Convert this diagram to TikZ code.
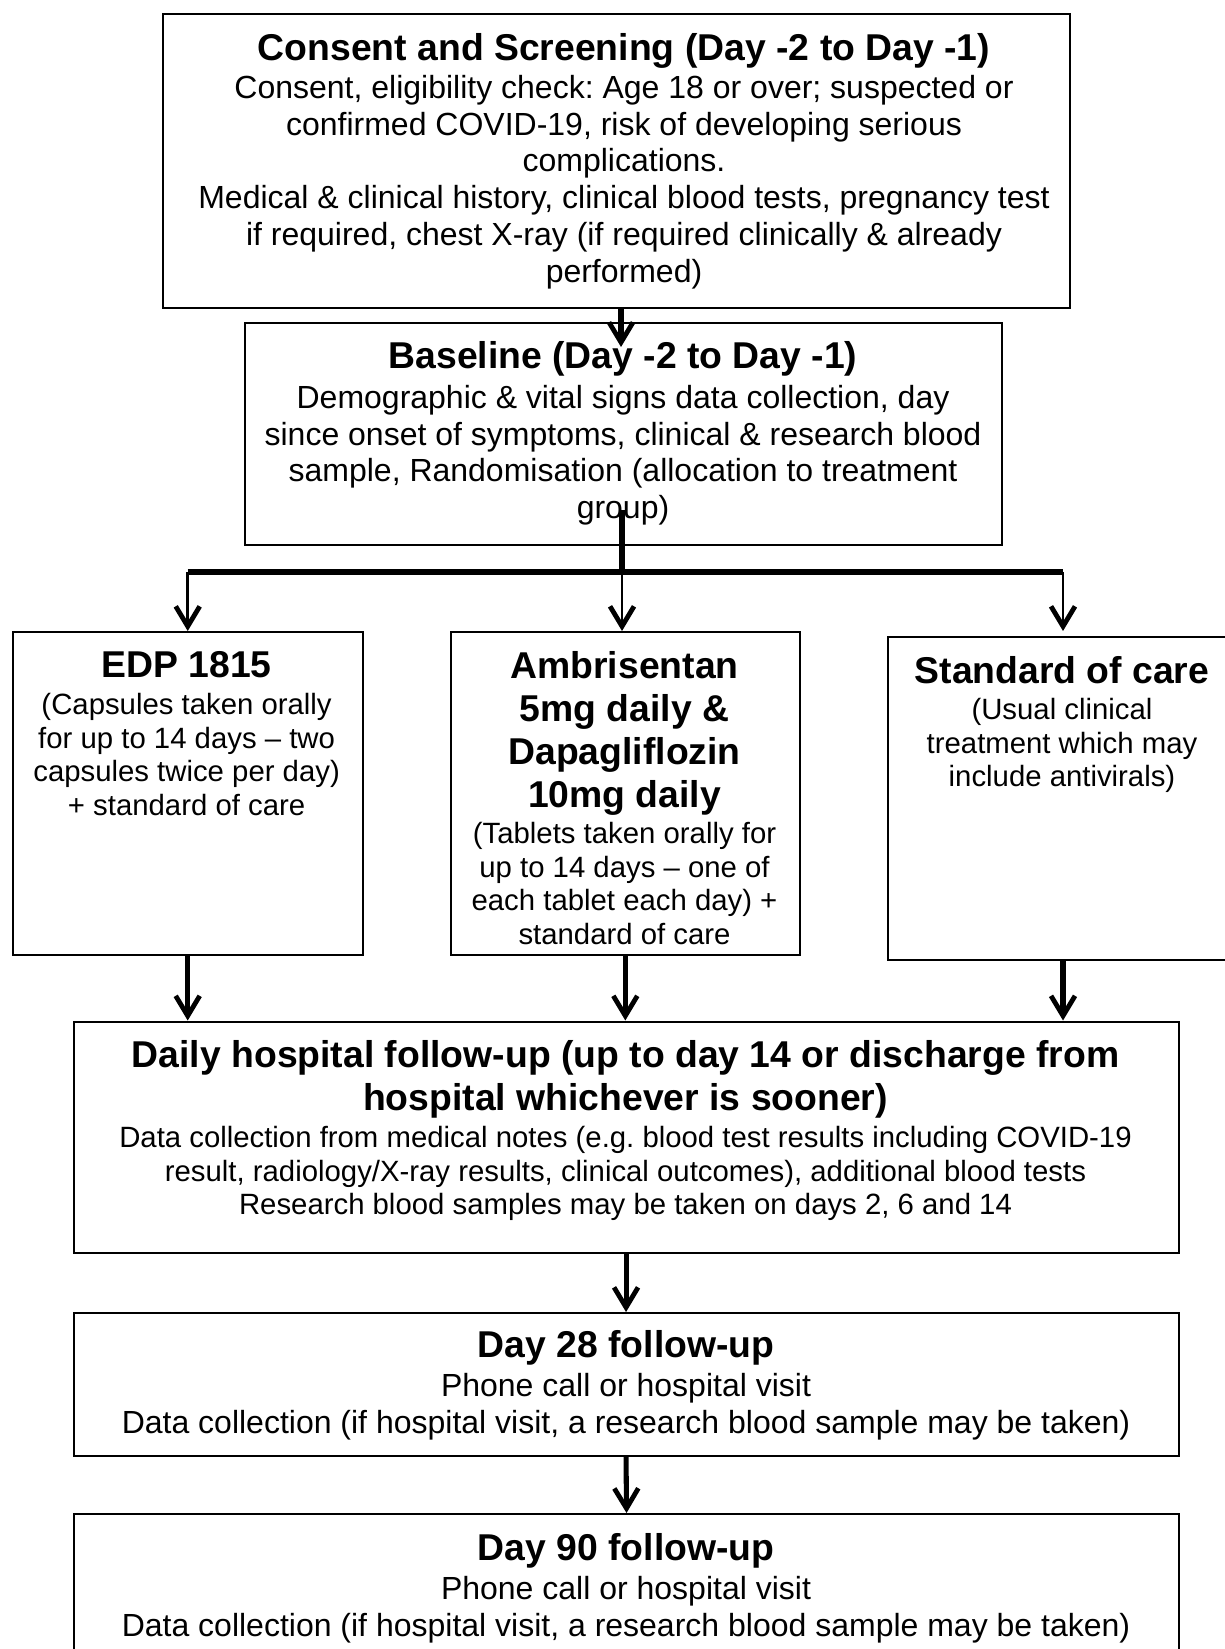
\documentclass[tikz,border=0pt]{standalone}
\usepackage{fontspec}
\setmainfont{Liberation Sans}
\usepackage{tikz}
\usetikzlibrary{arrows.meta, positioning}
\frenchspacing

\newcommand{\ttl}{\fontsize{14}{16.1}\selectfont\bfseries}
\newcommand{\bodyL}{\fontsize{12}{13.8}\selectfont}
\newcommand{\bodyS}{\fontsize{11}{12.65}\selectfont}

\begin{document}
\begin{tikzpicture}[
  x=0.375pt, y=-0.375pt,
  box/.style={draw, line width=0.75pt, anchor=north west, inner sep=0pt},
  txt/.style={anchor=north, align=center, inner sep=0pt},
  arr/.style={-{Straight Barb[length=7.5pt, width=9pt, line width=1.8pt]}, line width=1.9pt},
  thinarr/.style={arr, line width=1pt},
  bar/.style={line width=1.9pt}
]
  \useasboundingbox (0,0) rectangle (1224,1649);

  % boxes
  \node[box, minimum width=340.1pt, minimum height=110.25pt] (consent) at (162,13) {};
  \node[box, minimum width=283.9pt, minimum height=83.25pt] (baseline) at (244,322) {};
  \node[box, minimum width=131.25pt, minimum height=121.1pt] (edp) at (11.7,631) {};
  \node[box, minimum width=131.1pt, minimum height=121.1pt] (amb) at (449.5,631) {};
  \node[box, minimum width=131.25pt, minimum height=121.1pt] (std) at (887,636) {};
  \node[box, minimum width=414.4pt, minimum height=86.8pt] (daily) at (72.5,1020.5) {};
  \node[box, minimum width=414.4pt, minimum height=53.6pt] (day28) at (72.5,1312) {};
  \node[box, minimum width=414.4pt, minimum height=62.6pt] (day90) at (73,1513) {};

  % texts
  \node[txt, font=\ttl] (consentT) at (624,33) {Consent and Screening (Day -2 to Day -1)};
  \node[txt, font=\bodyL] (consentB) at (624,74.5) {Consent, eligibility check: Age 18 or over; suspected or\\
    confirmed COVID-19, risk of developing serious\\complications.\\
    Medical \& clinical history, clinical blood tests, pregnancy test\\
    if required, chest X-ray (if required clinically \& already\\performed)};

  \node[txt, font=\ttl] (baselineT) at (623,341) {Baseline (Day -2 to Day -1)};
  \node[txt, font=\bodyL] (baselineB) at (623,384.5) {Demographic \& vital signs data collection, day\\
    since onset of symptoms, clinical \& research blood\\
    sample, Randomisation (allocation to treatment\\group)};

  \node[txt, font=\ttl] (edpT) at (186.6,651) {EDP 1815};
  \node[txt, font=\bodyS] (edpB) at (186.6,692.5) {(Capsules taken orally\\
    for up to 14 days -- two\\capsules twice per day)\\+ standard of care};

  \node[txt, font=\ttl] (ambT) at (624.5,651) {Ambrisentan\\5mg daily \&\\Dapagliflozin\\10mg daily};
  \node[txt, font=\bodyS] (ambB) at (624.5,821.5) {(Tablets taken orally for\\
    up to 14 days -- one of\\each tablet each day) +\\standard of care};

  \node[txt, font=\ttl] (stdT) at (1062,656) {Standard of care};
  \node[txt, font=\bodyS] (stdB) at (1062,697.5) {(Usual clinical\\treatment which may\\include antivirals)};

  \node[txt, font=\ttl] (dailyT) at (625.5,1040) {Daily hospital follow-up (up to day 14 or discharge from\\
    hospital whichever is sooner)};
  \node[txt, font=\bodyS] (dailyB) at (625.5,1125.5) {Data collection from medical notes (e.g. blood test results including COVID-19\\
    result, radiology/X-ray results, clinical outcomes), additional blood tests\\
    Research blood samples may be taken on days 2, 6 and 14};

  \node[txt, font=\ttl] (day28T) at (626,1330) {Day 28 follow-up};
  \node[txt, font=\bodyL] (day28B) at (626,1372.5) {Phone call or hospital visit\\
    Data collection (if hospital visit, a research blood sample may be taken)};

  \node[txt, font=\ttl] (day90T) at (626,1533) {Day 90 follow-up};
  \node[txt, font=\bodyL] (day90B) at (626,1575.5) {Phone call or hospital visit\\
    Data collection (if hospital visit, a research blood sample may be taken)};

  % connectors
  \coordinate (split) at (622,510);
  \coordinate (fork) at (622,572);
  \draw[arr] ([xshift=1.7pt]consent.south) -- ++(0,38);
  \draw[bar] (split) -- (fork);
  \draw[bar] (edp.north |- fork) -- (std.north |- fork);
  \draw[thinarr] (edp.north |- fork) -- (edp.north);
  \draw[thinarr] (fork) -- (fork |- amb.north);
  \draw[thinarr] (std.north |- fork) -- (std.north |- edp.north);

  \draw[arr] (edp.south) -- (edp.south |- daily.north);
  \draw[arr] (amb.south) -- (amb.south |- daily.north);
  \draw[arr] (std.south) -- (std.south |- daily.north);
  \draw[arr] (daily.south -| day28.north) -- (day28.north);
  \draw[arr] (day28.south) -- (day90.north);
\end{tikzpicture}
\end{document}
